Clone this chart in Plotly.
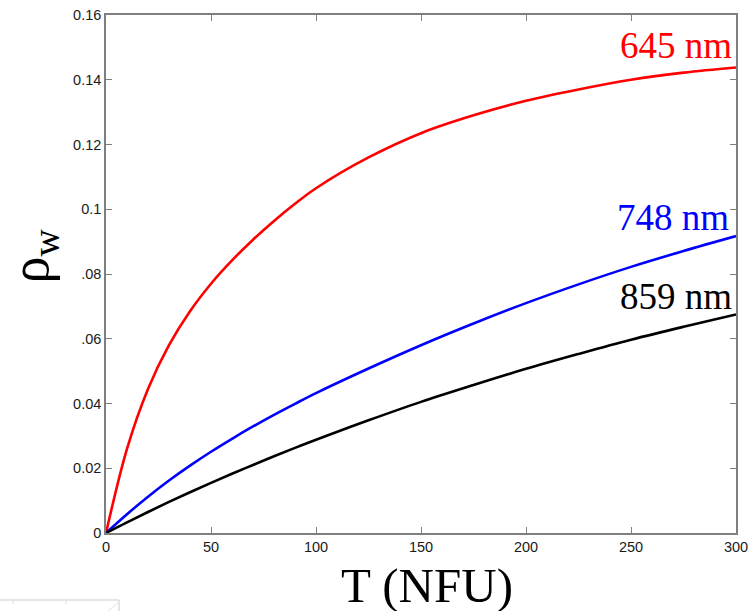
import plotly.graph_objects as go

# Turbidity T (NFU) and water reflectance rho_w at three wavelengths
T = [0, 10, 20, 30, 40, 50, 60, 70, 80, 90, 100, 125, 150, 175, 200, 225, 250, 275, 300]
rho_645 = [0, 0.026, 0.0445, 0.058, 0.0685, 0.077, 0.0842, 0.0906, 0.0964, 0.1017, 0.1065,
           0.116, 0.1235, 0.129, 0.1335, 0.137, 0.140, 0.1422, 0.1438]
rho_748 = [0, 0.0058, 0.0112, 0.0162, 0.0208, 0.0251, 0.0291, 0.0329, 0.0365, 0.0399, 0.0432,
           0.0508, 0.058, 0.0647, 0.071, 0.0768, 0.0822, 0.0871, 0.0917]
rho_859 = [0, 0.0033, 0.0065, 0.0096, 0.0126, 0.0155, 0.0183, 0.021, 0.0237, 0.0263, 0.0288,
           0.0348, 0.0405, 0.0457, 0.0507, 0.0553, 0.0597, 0.0637, 0.0675]

series = [
    ("645 nm", rho_645, "#ff0000"),
    ("748 nm", rho_748, "#0000ff"),
    ("859 nm", rho_859, "#000000"),
]

y_tickvals = [0, 0.02, 0.04, 0.06, 0.08, 0.1, 0.12, 0.14, 0.16]
y_ticktext = ["0", "0.02", "0.04", ".06", ".08", "0.1", "0.12", "0.14", "0.16"]
x_tickvals = [0, 50, 100, 150, 200, 250, 300]

# curve labels: anchored at the right end of the x range, vertical centre in data units,
# plus a small pixel nudge
label_pos = {"645 nm": (0.1507, -2), "748 nm": (0.0976, -5), "859 nm": (0.0729, -2)}

fig = go.Figure()
for name, vals, color in series:
    fig.add_trace(go.Scatter(x=T, y=vals, mode="lines", name=name,
                             line=dict(color=color, width=2.6, shape="spline", smoothing=1.0),
                             showlegend=False))
    ly, dx = label_pos[name]
    fig.add_annotation(x=T[-1], y=ly, xref="x", yref="y", text=name, showarrow=False,
                       xanchor="right", yanchor="middle", xshift=dx,
                       font=dict(family="Liberation Serif, Times New Roman, serif",
                                 size=37, color=color))

axis_common = dict(
    showline=True, linecolor="#7f7f7f", linewidth=1.5, mirror="allticks",
    ticks="inside", ticklen=6, tickcolor="#7f7f7f", tickwidth=1,
    showgrid=False, zeroline=False, automargin=False,
    tickfont=dict(family="Liberation Sans, Arial, sans-serif", size=14.5, color="#1a1a1a"),
)

fig.update_xaxes(range=[0, 300], tickvals=x_tickvals, **axis_common)
fig.update_yaxes(range=[0, 0.16], tickvals=y_tickvals, ticktext=y_ticktext, **axis_common)

# axis titles
fig.add_annotation(x=0.509, y=-0.102, xref="paper", yref="paper", text="T (NFU)",
                   showarrow=False, xanchor="center", yanchor="middle",
                   font=dict(family="Liberation Serif, Times New Roman, serif", size=49, color="#000"))
fig.add_annotation(x=-0.115, y=0.535, xref="paper", yref="paper", text="ρ<sub>w</sub>",
                   showarrow=False, xanchor="center", yanchor="middle", textangle=-90,
                   font=dict(family="Liberation Serif, Times New Roman, serif", size=54, color="#000"))

# faint strip in the lower-left corner
W, H, L, B = 630, 518, 106, 78
def px(xp):
    return (xp - L) / W
def py(yp):
    return (611 - B - yp) / H
fig.add_shape(type="line", xref="paper", yref="paper", x0=px(0), x1=px(119), y0=py(600), y1=py(600),
              line=dict(color="#dcdcdc", width=1.5))
for xt in (13, 66):
    fig.add_shape(type="line", xref="paper", yref="paper", x0=px(xt), x1=px(xt), y0=py(600), y1=py(604),
                  line=dict(color="#dcdcdc", width=1))
fig.add_shape(type="line", xref="paper", yref="paper", x0=px(119), x1=px(119), y0=py(600), y1=py(611),
              line=dict(color="#dcdcdc", width=1.5))
fig.add_shape(type="line", xref="paper", yref="paper", x0=px(108), x1=px(119), y0=py(611), y1=py(602),
              line=dict(color="#e4e4e4", width=1))

fig.update_layout(
    width=755, height=611,
    margin=dict(l=L, r=19, t=15, b=B),
    plot_bgcolor="white", paper_bgcolor="white",
)

fig.write_html("out.html")
